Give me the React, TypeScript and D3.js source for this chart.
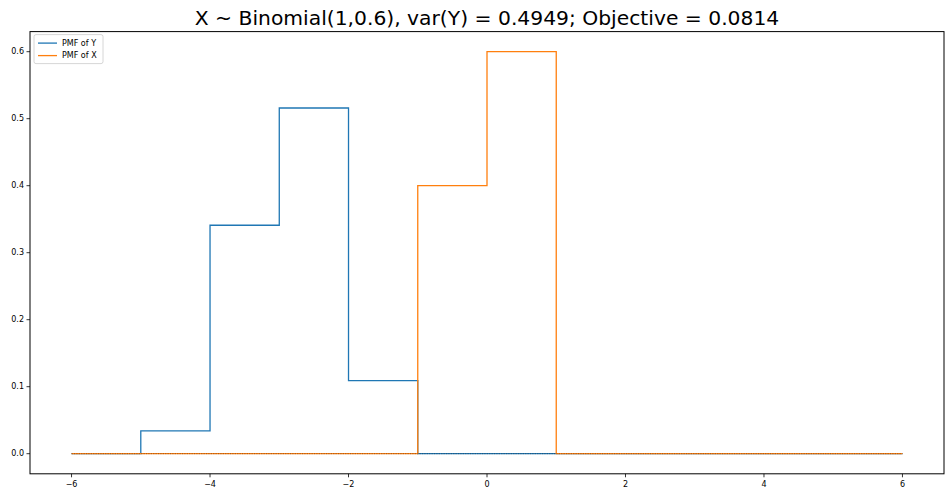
import React from 'react';
import * as d3 from 'd3';

// support points and PMFs
const support = [-6, -5, -4, -3, -2, -1, 0, 1, 2, 3, 4, 5, 6];
const pmfY = [0, 0.034, 0.341, 0.516, 0.109, 0, 0, 0, 0, 0, 0, 0, 0];
const pmfX = [0, 0, 0, 0, 0, 0.4, 0.6, 0, 0, 0, 0, 0, 0];
const xTicks = [-6, -4, -2, 0, 2, 4, 6];
const yTicks = [0, 0.1, 0.2, 0.3, 0.4, 0.5, 0.6];
const title = 'X ~ Binomial(1,0.6), var(Y) = 0.4949; Objective = 0.0814';

const W = 948;
const H = 492;
const m = { left: 30, right: 4, top: 31.6, bottom: 18.2 };
const font = 'DejaVu Sans, sans-serif';

const App = () => {
    const x = d3.scaleLinear().domain([-6.6, 6.6]).range([m.left, W - m.right]);
    const y = d3.scaleLinear().domain([-0.03, 0.63]).range([H - m.bottom, m.top]);

    const stepLine = d3
        .line<number>()
        .x((_, i) => x(support[i]))
        .curve(d3.curveStepAfter);

    const pathY = stepLine.y((d) => y(d))(pmfY) || '';
    const pathX = stepLine.y((d) => y(d))(pmfX) || '';
    const zeroLine = d3.line<number>().x((d) => x(d)).y(() => y(0))(support) || '';

    return (
        <svg width={W} height={H} style={{ position: 'absolute', left: 0, top: 0 }} fontFamily={font}>
            <rect width={W} height={H} fill="white" />
            <text x={(x(-6.6) + x(6.6)) / 2} y={25} textAnchor="middle" fontSize={20.3} fill="#000">
                {title}
            </text>
            <path d={pathY} fill="none" stroke="#1f77b4" strokeWidth={1.3} />
            <path d={pathX} fill="none" stroke="#ff7f0e" strokeWidth={1.3} />
            <path d={zeroLine} fill="none" stroke="#222" strokeOpacity={0.45} strokeWidth={1} strokeDasharray="1.2,1.2" />
            <rect
                x={m.left}
                y={m.top}
                width={W - m.left - m.right}
                height={H - m.top - m.bottom}
                fill="none"
                stroke="#000"
                strokeWidth={1}
            />
            {xTicks.map((t) => (
                <g key={t} transform={`translate(${x(t)},${H - m.bottom})`}>
                    <line y2={3.5} stroke="#000" strokeWidth={0.8} />
                    <text y={13} textAnchor="middle" fontSize={8} fill="#000">
                        {t < 0 ? `\u2212${-t}` : t}
                    </text>
                </g>
            ))}
            {yTicks.map((t) => (
                <g key={t} transform={`translate(${m.left},${y(t)})`}>
                    <line x2={-3.5} stroke="#000" strokeWidth={0.8} />
                    <text x={-6} dy="0.32em" textAnchor="end" fontSize={8} fill="#000">
                        {t.toFixed(1)}
                    </text>
                </g>
            ))}
            <g transform={`translate(${m.left + 4},${m.top + 3})`}>
                <rect width={69} height={29} rx={2} fill="white" fillOpacity={0.8} stroke="#ccc" strokeWidth={0.8} />
                {[
                    { label: 'PMF of Y', color: '#1f77b4' },
                    { label: 'PMF of X', color: '#ff7f0e' },
                ].map((d, i) => (
                    <g key={d.label} transform={`translate(0,${8.5 + i * 12.5})`}>
                        <line x1={4} x2={23} stroke={d.color} strokeWidth={1.3} />
                        <text x={28} dy="0.32em" fontSize={8} fill="#000">
                            {d.label}
                        </text>
                    </g>
                ))}
            </g>
        </svg>
    );
};

export default App;
